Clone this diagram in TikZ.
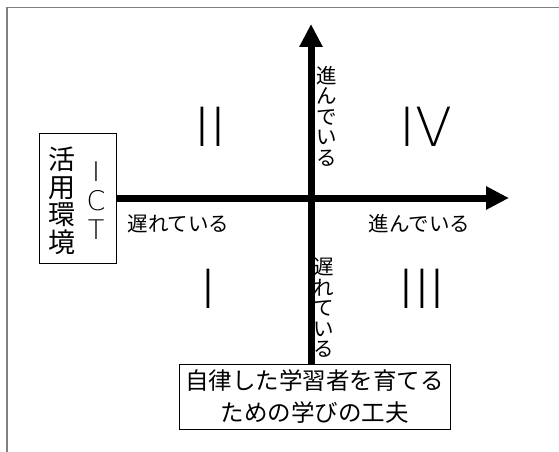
\documentclass[tikz,border=0pt]{standalone}
\usepackage{fontspec}
\setmainfont{Noto Sans CJK JP}
\newfontfamily\numfont{DejaVu Sans ExtraLight}
\usetikzlibrary{arrows.meta}
\begin{document}
\begin{tikzpicture}[x=1pt,y=-1pt]

    \tikzset{
      axis/.style={
        line width=7pt,
        -{Triangle[length=23pt,width=22pt]},
      },
      box/.style={
        draw,
        thin,
        inner sep=0pt,
      },
      label/.style={
        anchor=center,
        inner sep=0pt,
        font={\fontsize{20.5}{20.5}\selectfont},
      },
      vlabel/.style={
        label,
        align=center,
      },
      quadrant/.style={
        anchor=center,
        inner sep=0pt,
        font={\numfont\fontsize{54}{54}\selectfont},
      },
    }
    \useasboundingbox (0,0) rectangle (559,452);
    \draw[color={gray},line width=1.5pt] (7,452)--(7,7.5)--(559,7.5);

    % boxes
    \node[box,minimum width=77pt,minimum height=130pt] (ict) at (77.5,198) {};
    \node[anchor=center,inner sep=0pt,align=center,font={\fontsize{27}{27.5}\selectfont}] (katsuyo) at (62,201) {活\\用\\環\\境};
    \node[anchor=center,inner sep=0pt,align=center,font={\numfont\fontsize{27}{29}\selectfont}] (ictname) at (96,201) {I\\C\\T};
    \node[box,minimum width=271pt,minimum height=65pt,align=center,font={\fontsize{23.5}{32}\selectfont}] (gakushu) at (314.5,396.5) {自律した学習者を育てる\\ための学びの工夫};

    % axes
    \coordinate (origin) at (311,198);
    \coordinate (xtip) at (509,198);
    \coordinate (ytip) at (311,24);
    \draw[axis] (ict.east)--(xtip);
    \draw[axis] (gakushu.north -| origin)--(ytip);

    % labels
    \node[label] (xlow) at (178.5,224) {遅れている};
    \node[label] (xhigh) at (419.5,224) {進んでいる};
    \node[vlabel] (yhigh) at (327,116) {進\\ん\\で\\い\\る};
    \node[vlabel] (ylow) at (324,308) {遅\\れ\\て\\い\\る};

    \node[quadrant] (q2) at (210,127) {II};
    \node[quadrant] (q4) at (426,127) {IV};
    \node[quadrant] (q1) at (208,289) {I};
    \node[quadrant] (q3) at (422,289) {III};

\end{tikzpicture}
\end{document}
